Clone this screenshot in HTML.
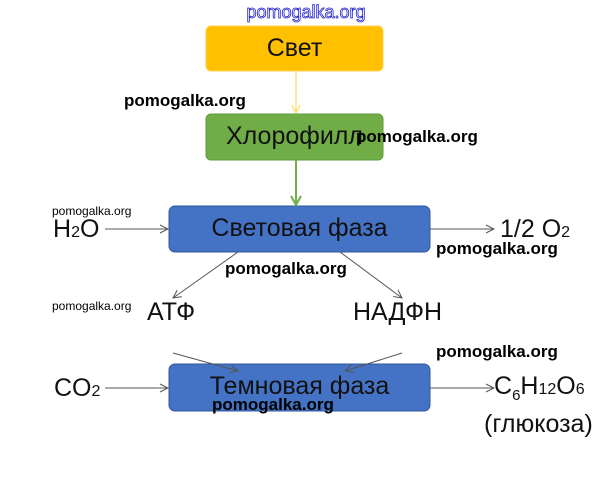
<!DOCTYPE html>
<html><head><meta charset="utf-8"><style>
body{margin:0;background:#fff;width:611px;height:480px;overflow:hidden;position:relative;font-family:"Liberation Sans",sans-serif}
.t{position:absolute;white-space:nowrap;color:#111}
.w{position:absolute;white-space:nowrap;font-weight:bold;color:#000;font-size:17px}
</style></head><body>
<svg width="611" height="480" style="position:absolute;left:0;top:0">
<defs>
<marker id="a" markerWidth="10" markerHeight="10" refX="9" refY="5" orient="auto" markerUnits="userSpaceOnUse"><path d="M1,1 L9,5 L1,9" fill="none" stroke="#555" stroke-width="1"/></marker>
<marker id="y" markerWidth="10" markerHeight="10" refX="9" refY="5" orient="auto" markerUnits="userSpaceOnUse"><path d="M1,1 L9,5 L1,9" fill="none" stroke="#ffd966" stroke-width="1.2"/></marker>
<marker id="g" markerWidth="12" markerHeight="12" refX="10" refY="6" orient="auto" markerUnits="userSpaceOnUse"><path d="M1,1 L10,6 L1,11" fill="none" stroke="#70ad47" stroke-width="2"/></marker>
</defs>
<rect x="206" y="26" width="177" height="45" rx="5" fill="#ffc000" stroke="#ffd24d"/>
<rect x="206" y="114" width="177" height="46" rx="5" fill="#70ad47" stroke="#5f9a3c"/>
<rect x="169" y="206" width="261" height="46" rx="6" fill="#4472c4" stroke="#2f55a0"/>
<rect x="169" y="364" width="261" height="47" rx="6" fill="#4472c4" stroke="#2f55a0"/>
<line x1="296" y1="71" x2="296" y2="113" stroke="#ffd966" stroke-width="1.2" marker-end="url(#y)"/>
<line x1="296" y1="160" x2="296" y2="205" stroke="#70ad47" stroke-width="2" marker-end="url(#g)"/>
<g stroke="#555" stroke-width="1" marker-end="url(#a)">
<line x1="105" y1="229" x2="168" y2="229"/>
<line x1="430" y1="229" x2="494" y2="229"/>
<line x1="238" y1="252" x2="173" y2="298"/>
<line x1="340" y1="252" x2="402" y2="298"/>
<line x1="173" y1="353" x2="238" y2="371"/>
<line x1="402" y1="353" x2="345" y2="371"/>
<line x1="105" y1="388" x2="168" y2="388"/>
<line x1="430" y1="388" x2="494" y2="388"/>
</g>
<text x="306" y="18" font-family="Liberation Sans" font-size="18" text-anchor="middle" fill="#fff" stroke="#2222cc" stroke-width="0.8">pomogalka.org</text>
</svg>
<div class="t" style="left:206px;width:177px;text-align:center;top:34px;font-size:25px">Свет</div>
<div class="t" style="left:226px;top:122px;font-size:25px">Хлорофилл</div>
<div class="t" style="left:169px;width:261px;text-align:center;top:214px;font-size:25px">Световая фаза</div>
<div class="t" style="left:169px;width:261px;text-align:center;top:372px;font-size:25px">Темновая фаза</div>
<div class="t" style="left:53px;top:215px;font-size:25px">H<span style="font-size:16px">2</span>O</div>
<div class="t" style="left:500px;top:215px;font-size:25px">1/2 O<span style="font-size:16px">2</span></div>
<div class="t" style="left:147px;top:298px;font-size:25px">АТФ</div>
<div class="t" style="left:353px;top:298px;font-size:25px">НАДФН</div>
<div class="t" style="left:54px;top:374px;font-size:25px">CO<span style="font-size:16px">2</span></div>
<div class="t" style="left:494px;top:372px;font-size:25px">C<sub style="font-size:15px">6</sub>H<span style="font-size:16px">12</span>O<span style="font-size:16px">6</span></div>
<div class="t" style="left:484px;top:410px;font-size:25px">(глюкоза)</div>
<div class="w" style="left:124px;top:91px">pomogalka.org</div>
<div class="w" style="left:356px;top:127px">pomogalka.org</div>
<div class="w" style="left:52px;top:204px;font-size:12px;font-weight:normal">pomogalka.org</div>
<div class="w" style="left:436px;top:239px">pomogalka.org</div>
<div class="w" style="left:225px;top:259px">pomogalka.org</div>
<div class="w" style="left:52px;top:299px;font-size:12px;font-weight:normal">pomogalka.org</div>
<div class="w" style="left:436px;top:342px">pomogalka.org</div>
<div class="w" style="left:212px;top:395px">pomogalka.org</div>
</body></html>
